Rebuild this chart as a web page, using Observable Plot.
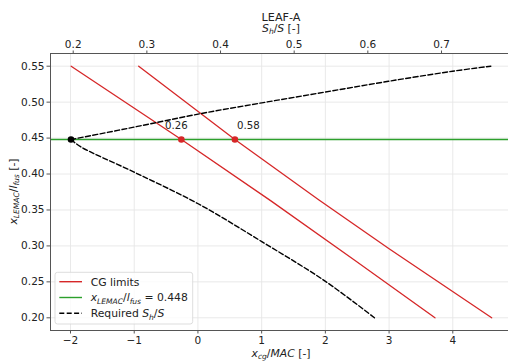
<!DOCTYPE html>
<html>
<head>
<meta charset="utf-8">
<script src="https://cdn.jsdelivr.net/npm/d3@7"></script>
<script src="https://cdn.jsdelivr.net/npm/@observablehq/plot@0.6"></script>
<style>
  html, body { margin: 0; padding: 0; background: #fff; overflow: hidden; }
  #chart svg { display: block; font-family: "DejaVu Sans", sans-serif; }
  #chart text { white-space: pre; }
</style>
</head>
<body>
<div id="chart"></div>
<script>
// Front and aft CG limits: x_cg/MAC against x_LEMAC/l_fus
const frontXcg   = [-1.99, -0.26, 1.14, 2.46, 3.72];
const frontLemac = [0.550, 0.448, 0.363, 0.280, 0.200];
const aftXcg     = [-0.93, 0.58, 1.90, 3.00, 4.61];
const aftLemac   = [0.550, 0.448, 0.364, 0.296, 0.200];

// Required horizontal tail area S_h/S (stability and controllability branches)
const stabShS   = [0.197, 0.262, 0.291, 0.373, 0.456, 0.542, 0.628, 0.715, 0.767];
const stabLemac = [0.448, 0.461, 0.467, 0.484, 0.499, 0.514, 0.529, 0.543, 0.550];
const ctrlShS   = [0.197, 0.210, 0.282, 0.369, 0.456, 0.542, 0.609];
const ctrlLemac = [0.448, 0.438, 0.403, 0.359, 0.306, 0.251, 0.200];

// Chosen wing position and resulting CG limits
const chosenLemac = 0.448;
const cgLimits = [-0.26, 0.58];

// Tick values
const xTicks   = [-2, -1, 0, 1, 2, 3, 4];
const shsTicks = [0.2, 0.3, 0.4, 0.5, 0.6, 0.7];
const yTicks   = [0.20, 0.25, 0.30, 0.35, 0.40, 0.45, 0.50, 0.55];

// The S_h/S axis on top shares the horizontal extent of the x_cg/MAC axis
const shsAtZero = 0.36934, shsPerUnit = 0.086505;
const sToX = s => (s - shsAtZero) / shsPerUnit;
const xToS = x => shsAtZero + shsPerUnit * x;

const rows = (xs, ys) => xs.map((x, i) => ({x, y: ys[i]}));
const front = rows(frontXcg, frontLemac);
const aft   = rows(aftXcg, aftLemac);
const stab  = rows(stabShS.map(sToX), stabLemac);
const ctrl  = rows(ctrlShS.map(sToX), ctrlLemac);
const limits = cgLimits.map(x => ({x, y: chosenLemac}));

const RED = "#d62728", GREEN = "#2ca02c", GRID = "#e6e6e6", SPINE = "#555", INK = "#222";
const dash = "5,2.4";

const chart = Plot.plot({
  width: 508,
  height: 363,
  marginLeft: 50,
  marginRight: -4,
  marginTop: 53,
  marginBottom: 33,
  style: {fontFamily: "DejaVu Sans", fontSize: "10.5px", color: INK, background: "#fff", overflow: "visible"},
  x: {domain: [-2.314, 4.937], label: null},
  y: {domain: [0.18233, 0.56767], label: null},
  marks: [
    Plot.gridX(xTicks, {stroke: GRID, strokeOpacity: 1, strokeWidth: 0.9}),
    Plot.gridY(yTicks, {stroke: GRID, strokeOpacity: 1, strokeWidth: 0.9}),
    Plot.line(front, {x: "x", y: "y", stroke: RED, strokeWidth: 1.3}),
    Plot.line(aft, {x: "x", y: "y", stroke: RED, strokeWidth: 1.3}),
    Plot.ruleY([chosenLemac], {stroke: GREEN, strokeWidth: 1.4}),
    Plot.line(stab, {x: "x", y: "y", curve: "catmull-rom", stroke: "#000", strokeWidth: 1.4, strokeDasharray: dash}),
    Plot.line(ctrl, {x: "x", y: "y", curve: "catmull-rom", stroke: "#000", strokeWidth: 1.4, strokeDasharray: dash}),
    Plot.dot(limits, {x: "x", y: "y", r: 3.3, fill: RED, stroke: "none"}),
    Plot.dot([stab[0]], {x: "x", y: "y", r: 3.3, fill: "#000", stroke: "none"}),
    Plot.text([limits[0]], {x: "x", y: "y", text: d => Math.abs(d.x).toFixed(2), dx: -5, dy: -13.5, fontSize: 10.2, fill: INK}),
    Plot.text([limits[1]], {x: "x", y: "y", text: d => Math.abs(d.x).toFixed(2), dx: 13.5, dy: -13.5, fontSize: 10.2, fill: INK}),
    Plot.axisX({anchor: "bottom", ticks: xTicks, tickSize: 3.5, tickPadding: 2.5, stroke: SPINE, fill: INK, label: null}),
    Plot.axisX({anchor: "top", ticks: shsTicks.map(sToX), tickFormat: d => xToS(d).toFixed(1), tickSize: 3.5, tickPadding: 2.5, stroke: SPINE, fill: INK, label: null}),
    Plot.axisY({ticks: yTicks, tickFormat: d3.format(".2f"), tickSize: 3.5, tickPadding: 2.5, stroke: SPINE, fill: INK, label: null}),
    Plot.frame({stroke: SPINE, strokeWidth: 1})
  ]
});

document.getElementById("chart").append(chart);

// Axis titles and legend with sub-scripted math-style labels
const svg = d3.select(chart);

function richText(parent, parts, size, anchor) {
  const t = parent.append("text").attr("font-size", size).attr("fill", INK)
    .attr("text-anchor", anchor);
  let shift = 0;
  parts.forEach(p => {
    const ts = t.append("tspan").text(p.t);
    if (p.it) ts.attr("font-style", "italic");
    const target = p.sub ? size * 0.22 : 0;
    if (target !== shift) { ts.attr("dy", target - shift); shift = target; }
    if (p.sub) ts.attr("font-size", size * 0.7);
  });
  return t;
}

const xLabel = [{t: "x", it: true}, {t: "cg", it: true, sub: true}, {t: "/"}, {t: "MAC", it: true}, {t: " [-]"}];
const yLabel = [{t: "x", it: true}, {t: "LEMAC", it: true, sub: true}, {t: "/"}, {t: "l", it: true}, {t: "fus", it: true, sub: true}, {t: " [-]"}];
const sLabel = [{t: "S", it: true}, {t: "h", it: true, sub: true}, {t: "/"}, {t: "S", it: true}, {t: " [-]"}];

const cx = 281;
svg.append("text").attr("x", cx).attr("y", 20.5).attr("text-anchor", "middle")
  .attr("font-size", 11.2).attr("fill", INK).text("LEAF-A");
richText(svg, sLabel, 10.8, "middle").attr("x", cx).attr("y", 32);
richText(svg, xLabel, 10.8, "middle").attr("x", cx).attr("y", 356.5);
richText(svg, yLabel, 10.8, "middle").attr("transform", "translate(16.5,191.5) rotate(-90)");

// Legend
const lg = svg.append("g");
lg.append("rect").attr("x", 55).attr("y", 272.3).attr("width", 137.7).attr("height", 51.7)
  .attr("rx", 2.5).attr("fill", "#fff").attr("fill-opacity", 0.8)
  .attr("stroke", "#d4d4d4").attr("stroke-width", 0.8);
const entries = [
  {stroke: RED, dash: null, parts: [{t: "CG limits"}]},
  {stroke: GREEN, dash: null, parts: [{t: "x", it: true}, {t: "LEMAC", it: true, sub: true}, {t: "/"}, {t: "l", it: true}, {t: "fus", it: true, sub: true}, {t: " = " + chosenLemac}]},
  {stroke: "#000", dash: dash, parts: [{t: "Required "}, {t: "S", it: true}, {t: "h", it: true, sub: true}, {t: "/"}, {t: "S", it: true}]}
];
entries.forEach((e, i) => {
  const yy = 281.7 + i * 15.8;
  const ln = lg.append("line").attr("x1", 59.3).attr("x2", 82).attr("y1", yy).attr("y2", yy)
    .attr("stroke", e.stroke).attr("stroke-width", 1.4);
  if (e.dash) ln.attr("stroke-dasharray", e.dash);
  richText(lg, e.parts, 10.8, "start").attr("x", 90.7).attr("y", yy + 3.9);
});
</script>
</body>
</html>
